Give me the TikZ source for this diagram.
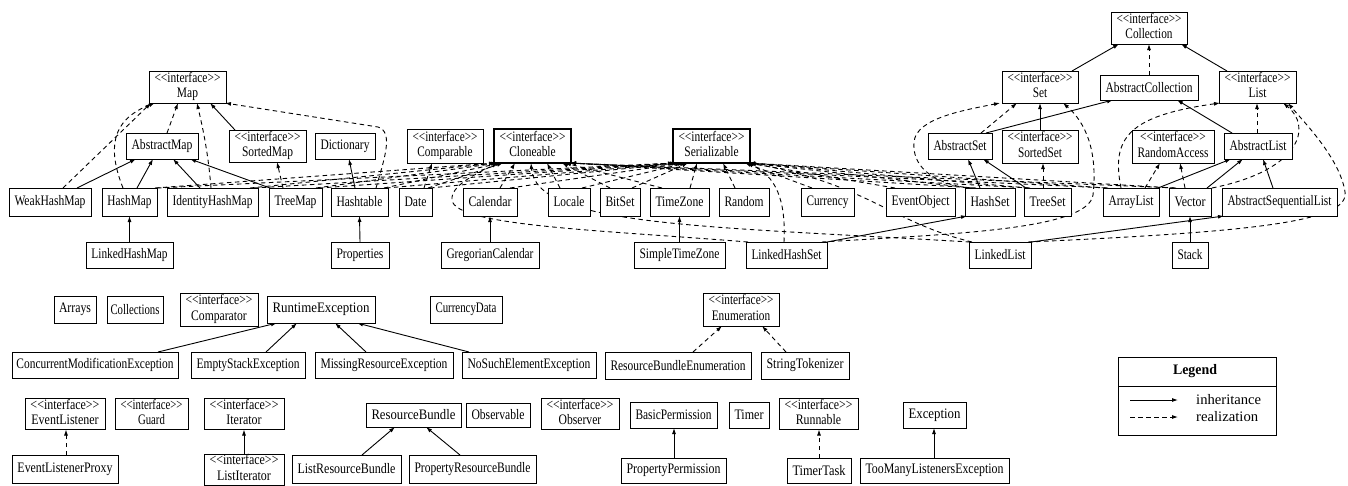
\documentclass[tikz,border=0pt]{standalone}
\usepackage{fontspec}
\setmainfont{Liberation Serif}
\usepackage{graphicx}
\usetikzlibrary{arrows.meta}
\pgfdeclarelayer{bg}
\pgfsetlayers{bg,main}
\newcommand\stereo{<\kern0pt<interface>\kern0pt>}
\newcommand\twolines[1]{\begin{tabular}{@{}c@{}}\stereo\\#1\end{tabular}}
\newcommand\ub[8][]{%
  \pgfmathsetmacro\ubw{#5-#3-#7}%
  \node[box,#1,minimum width={(#5-#3)*1pt},minimum height={(#6-#4)*1pt}] (#2) at ({(#3+#5)/2},{(#4+#6)/2}) {\resizebox{\ubw pt}{\height}{#8}};}
\begin{document}
\begin{tikzpicture}[x=1pt,y=-1pt,
  box/.style={draw, fill=white, line width=0.9pt, inner sep=0pt, outer sep=0pt, font=\fontsize{14.5}{15.5}\selectfont},
  heavy/.style={line width=2.4pt},
  inh/.style={-{Latex[length=6pt,width=4pt]}, line width=0.9pt},
  rea/.style={inh, dash pattern=on 4.5pt off 3.5pt}]
\useasboundingbox (0,0) rectangle (1348,485);
\begin{pgfonlayer}{bg}
\fill[white] (0,0) rectangle (1348,485);
\end{pgfonlayer}
% ---------- top rows
\ub{Map}{149}{71}{226}{103}{11}{\twolines{Map}}
\ub{AbstractMap}{126}{133}{198}{159}{11}{AbstractMap}
\ub{SortedMap}{229}{130}{306}{162}{11}{\twolines{SortedMap}}
\ub{Dictionary}{315}{133}{375}{159}{11}{Dictionary}
\ub{Comparable}{407}{129}{483}{163}{11}{\twolines{Comparable}}
\ub[heavy]{Cloneable}{494}{129}{571}{163}{11}{\twolines{Cloneable}}
\ub[heavy]{Serializable}{673}{129}{750}{163}{11}{\twolines{Serializable}}
\ub{Collection}{1111}{12}{1187}{44}{11}{\twolines{Collection}}
\ub{Set}{1002}{71}{1078}{103}{11}{\twolines{Set}}
\ub{AbstractCollection}{1100}{75}{1198}{100}{11}{AbstractCollection}
\ub{List}{1219}{71}{1296}{103}{11}{\twolines{List}}
\ub{AbstractSet}{928}{133}{992}{159}{11}{AbstractSet}
\ub{SortedSet}{1002}{130}{1078}{163}{11}{\twolines{SortedSet}}
\ub{RandomAccess}{1132}{130}{1214}{163}{11}{\twolines{RandomAccess}}
\ub{AbstractList}{1224}{133}{1292}{159}{11}{AbstractList}
% row 188
\ub{WeakHashMap}{9}{188}{91}{216}{11}{WeakHashMap}
\ub{HashMap}{102}{188}{157}{216}{11}{HashMap}
\ub{IdentityHashMap}{167}{188}{258}{216}{11}{IdentityHashMap}
\ub{TreeMap}{269}{188}{322}{216}{11}{TreeMap}
\ub{Hashtable}{331}{188}{388}{216}{11}{Hashtable}
\ub{Date}{399}{188}{432}{216}{11}{Date}
\ub{Calendar}{463}{188}{517}{216}{11}{Calendar}
\ub{Locale}{548}{188}{590}{216}{11}{Locale}
\ub{BitSet}{600}{188}{640}{216}{11}{BitSet}
\ub{TimeZone}{650}{188}{709}{216}{11}{TimeZone}
\ub{Random}{719}{188}{769}{216}{11}{Random}
\ub{Currency}{801}{188}{854}{216}{11}{Currency}
\ub{EventObject}{886}{188}{955}{216}{11}{EventObject}
\ub{HashSet}{965}{188}{1015}{216}{11}{HashSet}
\ub{TreeSet}{1024}{188}{1071}{216}{11}{TreeSet}
\ub{ArrayList}{1103}{188}{1159}{216}{11}{ArrayList}
\ub{Vector}{1169}{188}{1211}{216}{11}{Vector}
\ub{AbstractSequentialList}{1222}{188}{1337}{216}{11}{AbstractSequentialList}
% row 242
\ub{LinkedHashMap}{86}{242}{173}{268}{11}{LinkedHashMap}
\ub{Properties}{331}{242}{389}{268}{11}{Properties}
\ub{GregorianCalendar}{441}{242}{539}{268}{11}{GregorianCalendar}
\ub{SimpleTimeZone}{634}{242}{725}{268}{11}{SimpleTimeZone}
\ub{LinkedHashSet}{746}{242}{827}{268}{11}{LinkedHashSet}
\ub{LinkedList}{969}{242}{1031}{268}{11}{LinkedList}
\ub{Stack}{1172}{242}{1208}{268}{11}{Stack}
% ---------- bottom part
\ub{Arrays}{54}{296}{96}{323}{10}{Arrays}
\ub{Collections}{107}{296}{163}{323}{7}{Collections}
\ub{Comparator}{180}{293}{258}{326}{11}{\twolines{Comparator}}
\ub{RuntimeException}{267}{296}{375}{323}{11}{RuntimeException}
\ub{CurrencyData}{430}{296}{502}{323}{11}{CurrencyData}
\ub{Enumeration}{703}{293}{779}{326}{11}{\twolines{Enumeration}}
\ub{ConcurrentModificationException}{12}{352}{178}{378}{9}{ConcurrentModificationException}
\ub{EmptyStackException}{191}{352}{305}{378}{11}{EmptyStackException}
\ub{MissingResourceException}{315}{352}{453}{378}{11}{MissingResourceException}
\ub{NoSuchElementException}{462}{352}{596}{378}{11}{NoSuchElementException}
\ub{ResourceBundleEnumeration}{605}{352}{751}{379}{11}{ResourceBundleEnumeration}
\ub{StringTokenizer}{761}{352}{849}{379}{11}{StringTokenizer}
\ub{EventListener}{25}{399}{105}{429}{11}{\twolines{EventListener}}
\ub{Guard}{115}{399}{188}{429}{11}{\twolines{Guard}}
\ub{Iterator}{204}{399}{284}{429}{11}{\twolines{Iterator}}
\ub{ResourceBundle}{366}{403}{461}{427}{11}{ResourceBundle}
\ub{Observable}{466}{403}{530}{427}{11}{Observable}
\ub{Observer}{541}{399}{619}{429}{11}{\twolines{Observer}}
\ub{BasicPermission}{630}{402}{717}{428}{11}{BasicPermission}
\ub{Timer}{729}{402}{769}{428}{11}{Timer}
\ub{Runnable}{779}{399}{858}{429}{11}{\twolines{Runnable}}
\ub{Exception}{903}{402}{966}{428}{11}{Exception}
\ub{EventListenerProxy}{12}{455}{118}{483}{11}{EventListenerProxy}
\ub{ListIterator}{204}{454}{284}{485}{11}{\twolines{ListIterator}}
\ub{ListResourceBundle}{292}{455}{401}{483}{11}{ListResourceBundle}
\ub{PropertyResourceBundle}{409}{455}{536}{483}{11}{PropertyResourceBundle}
\ub{PropertyPermission}{621}{458}{726}{483}{11}{PropertyPermission}
\ub{TimerTask}{787}{458}{851}{483}{11}{TimerTask}
\ub{TooManyListenersException}{860}{458}{1009}{483}{11}{TooManyListenersException}
% ---------- legend
\node[box, minimum width=158pt, minimum height=78pt] (legend) at (1197,396) {};
\draw[line width=0.9pt] (legend.west |- 0,386) -- (legend.east |- 0,386);
\node[inner sep=0pt, font=\fontsize{14.5}{15.5}\selectfont] (legtitle) at (1195,371.5) {\resizebox{44pt}{\height}{\textbf{Legend}}};
\coordinate (la1) at (1130,400);
\coordinate (la2) at (1178,400);
\coordinate (lb1) at (1130,417);
\coordinate (lb2) at (1178,417);
\draw[inh] (la1) -- (la2);
\draw[rea] (lb1) -- (lb2);
\node[anchor=west, inner sep=0pt, font=\fontsize{14.5}{15.5}\selectfont] (lt1) at (1196,400) {\resizebox{65pt}{\height}{inheritance}};
\node[anchor=west, inner sep=0pt, font=\fontsize{14.5}{15.5}\selectfont] (lt2) at (1196,417) {\resizebox{62pt}{\height}{realization}};
% ---------- connectors
\begin{pgfonlayer}{bg}
% Map family
\draw[rea] (WeakHashMap.north -| 63,0) -- (Map.south -| 151,0);
\draw[inh] (WeakHashMap.north -| 77,0) -- (AbstractMap.south -| 136,0);
\draw[rea] (HashMap.north -| 123,0) .. controls (108,150) and (110,120) .. (Map.south -| 155,0);
\draw[inh] (HashMap.north -| 137,0) -- (AbstractMap.south -| 153,0);
\draw[rea] (AbstractMap.north -| 167,0) -- (Map.south -| 178,0);
\draw[rea] (IdentityHashMap.north -| 211,0) .. controls (208,150) and (202,125) .. (Map.south -| 197,0);
\draw[inh] (IdentityHashMap.north -| 200,0) -- (AbstractMap.south -| 173,0);
\draw[inh] (TreeMap.north -| 270,0) -- (AbstractMap.south -| 190,0);
\draw[rea] (TreeMap.north -| 283,0) -- (SortedMap.south -| 277,0);
\draw[inh] (SortedMap.north -| 235,0) -- (Map.south -| 210,0);
\draw[inh] (Hashtable.north -| 355,0) -- (Dictionary.south -| 349,0);
\draw[rea] (Hashtable.north -| 376,0) .. controls (384,160) and (394,132) .. (378,127) -- (Map.south -| 225,0);
\draw[inh] (LinkedHashMap.north) -- (HashMap.south);
\draw[inh] (Properties.north) -- (Hashtable.south);
\draw[rea] (Date.north -| 424,0) -- (Comparable.south -| 432,0);
\draw[inh] (GregorianCalendar.north) -- (Calendar.south);
\draw[inh] (SimpleTimeZone.north) -- (TimeZone.south);
% Cloneable
\foreach \n/\a/\b in {HashMap/155/495, IdentityHashMap/250/497, TreeMap/316/499, Hashtable/384/501, Date/428/503, Calendar/500/515, Locale/560/547, BitSet/610/562, TimeZone/662/565, HashSet/976/570, TreeSet/1030/570, ArrayList/1108/570, Vector/1176/570}
  \draw[rea] (\n.north -| \a,0) -- (Cloneable.south -| \b,0);
% Serializable
\foreach \n/\a/\b in {HashMap/157/674, IdentityHashMap/254/676, TreeMap/319/678, Hashtable/386/680, Date/430/682, Calendar/510/684, Locale/582/686, BitSet/632/688, TimeZone/690/697, Random/735/723, Currency/812/745, EventObject/895/748, HashSet/972/749, TreeSet/1028/749, ArrayList/1106/749, Vector/1174/749}
  \draw[rea] (\n.north -| \a,0) -- (Serializable.south -| \b,0);
\draw[rea] (LinkedHashSet.north -| 784,0) .. controls (786,200) and (776,176) .. (Serializable.south -| 747,0);
\draw[rea] (LinkedList.north -| 972,0) .. controls (890,222) and (870,185) .. (Serializable.south -| 750,0);
\draw[rea] (LinkedHashSet.north -| 748,0) .. controls (600,230) and (455,226) .. (452,200) .. controls (450,185) and (480,172) .. (Cloneable.south -| 498,0);
\draw[rea] (LinkedList.north -| 970,0) .. controls (700,226) and (536,226) .. (Cloneable.south -| 531,0);
% Set family
\draw[inh] (LinkedHashSet.north east) -- (HashSet.south -| 967,0);
\draw[rea] (LinkedHashSet.north -| 822,0) .. controls (950,234) and (1088,230) .. (1093,195) .. controls (1098,150) and (1085,122) .. (Set.south -| 1063,0);
\draw[rea] (HashSet.north -| 967,0) .. controls (930,182) and (912,165) .. (914,142) .. controls (916,118) and (965,110) .. (Set.south -| 1000,0);
\draw[inh] (HashSet.north -| 980,0) -- (AbstractSet.south -| 968,0);
\draw[inh] (TreeSet.north -| 1026,0) -- (AbstractSet.south -| 983,0);
\draw[rea] (TreeSet.north -| 1043,0) -- (SortedSet.south -| 1043,0);
\draw[rea] (AbstractSet.north -| 981,0) -- (Set.south -| 1017,0);
\draw[inh] (AbstractSet.north -| 986,0) -- (AbstractCollection.south -| 1113,0);
\draw[inh] (SortedSet.north) -- (Set.south);
\draw[inh] (Set.north -| 1072,0) -- (Collection.south -| 1119,0);
\draw[rea] (AbstractCollection.north) -- (Collection.south);
\draw[inh] (List.north -| 1227,0) -- (Collection.south -| 1181,0);
% List family
\draw[inh] (AbstractList.north -| 1232,0) -- (AbstractCollection.south -| 1177,0);
\draw[rea] (AbstractList.north -| 1257,0) -- (List.south -| 1257,0);
\draw[inh] (ArrayList.north -| 1158,0) -- (AbstractList.south -| 1231,0);
\draw[inh] (Vector.north -| 1207,0) -- (AbstractList.south -| 1243,0);
\draw[inh] (AbstractSequentialList.north -| 1273,0) -- (AbstractList.south -| 1263,0);
\draw[rea] (ArrayList.north -| 1145,0) -- (RandomAccess.south -| 1160,0);
\draw[rea] (Vector.north -| 1185,0) -- (RandomAccess.south -| 1180,0);
\draw[rea] (ArrayList.north -| 1121,0) .. controls (1111,138) and (1128,116) .. (List.south -| 1220,0);
\draw[rea] (Vector.north -| 1212,0) .. controls (1302,170) and (1312,126) .. (List.south -| 1283,0);
\draw[inh] (Stack.north) -- (Vector.south);
\draw[inh] (LinkedList.north east) -- (AbstractSequentialList.south -| 1224,0);
\draw[rea] (LinkedList.north -| 1028,0) .. controls (1250,232) and (1350,222) .. (1345,192) .. controls (1340,158) and (1302,120) .. (List.south -| 1288,0);
% bottom part
\draw[inh] (ConcurrentModificationException.north -| 158,0) -- (RuntimeException.south -| 277,0);
\draw[inh] (EmptyStackException.north -| 266,0) -- (RuntimeException.south -| 297,0);
\draw[inh] (MissingResourceException.north -| 366,0) -- (RuntimeException.south -| 335,0);
\draw[inh] (NoSuchElementException.north -| 469,0) -- (RuntimeException.south -| 357,0);
\draw[rea] (ResourceBundleEnumeration.north -| 693,0) -- (Enumeration.south -| 722,0);
\draw[rea] (StringTokenizer.north -| 786,0) -- (Enumeration.south -| 762,0);
\draw[rea] (EventListenerProxy.north -| 66,0) -- (EventListener.south -| 66,0);
\draw[inh] (ListIterator.north) -- (Iterator.south);
\draw[inh] (ListResourceBundle.north -| 362,0) -- (ResourceBundle.south -| 395,0);
\draw[inh] (PropertyResourceBundle.north -| 460,0) -- (ResourceBundle.south -| 426,0);
\draw[inh] (PropertyPermission.north -| 674,0) -- (BasicPermission.south -| 674,0);
\draw[rea] (TimerTask.north -| 819,0) -- (Runnable.south -| 819,0);
\draw[inh] (TooManyListenersException.north -| 934,0) -- (Exception.south -| 934,0);
\end{pgfonlayer}
\end{tikzpicture}
\end{document}
